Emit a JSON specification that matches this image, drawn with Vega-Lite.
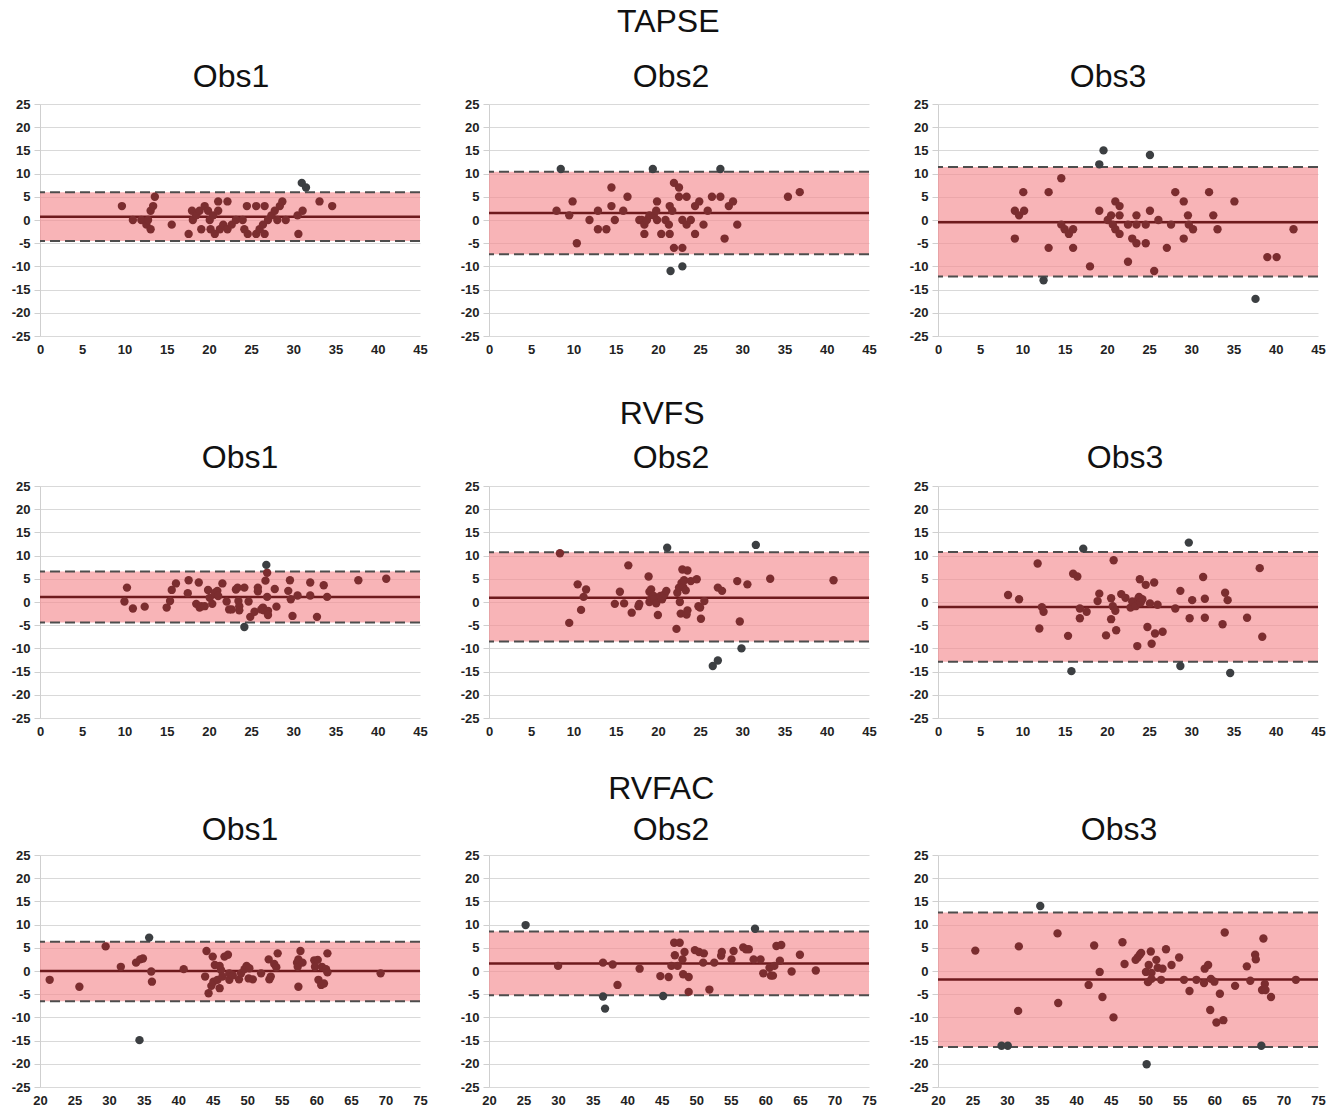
{
"$schema":"https://vega.github.io/schema/vega-lite/v6.json",
"padding":{"left":11,"top":6,"right":5,"bottom":0},
"config":{"font":"Liberation Sans","view":{"stroke":null},
"title":{"fontSize":32,"fontWeight":"normal","font":"Liberation Sans","color":"#111111","anchor":"middle"},
"axis":{"labelFont":"Liberation Sans","labelFontSize":13,"labelFontWeight":"bold","labelColor":"#222222","domainColor":"#cfcfcf","tickColor":"#cfcfcf","gridColor":"#d9d9d9","labelFlush":false,"labelOverlap":false,"labelExpr":"replace(datum.label,'−','-')"},
"axisY":{"grid":true,"tickSize":6,"labelPadding":4,"domain":true,"values":[-25,-20,-15,-10,-5,0,5,10,15,20,25]},
"axisX":{"grid":false,"ticks":false,"domain":false,"labelPadding":7}},
"datasets":{
"lim":[
{"p":"t1","mean":0.7,"lo":-4.5,"hi":6.0},
{"p":"t2","mean":1.5,"lo":-7.4,"hi":10.4},
{"p":"t3","mean":-0.5,"lo":-12.2,"hi":11.4},
{"p":"r1","mean":1.07,"lo":-4.4,"hi":6.6},
{"p":"r2","mean":0.93,"lo":-8.5,"hi":10.7},
{"p":"r3","mean":-1.07,"lo":-12.9,"hi":10.8},
{"p":"f1","mean":0,"lo":-6.5,"hi":6.3},
{"p":"f2","mean":1.6,"lo":-5.2,"hi":8.5},
{"p":"f3","mean":-1.85,"lo":-16.4,"hi":12.6}],
"t1":[{"x":9.7,"y":3,"s":"in"},{"x":11,"y":0,"s":"in"},{"x":12,"y":0,"s":"in"},{"x":12.6,"y":-1,"s":"in"},{"x":13.1,"y":-2,"s":"in"},{"x":13.1,"y":2,"s":"in"},{"x":13.4,"y":3,"s":"in"},{"x":13.6,"y":5,"s":"in"},{"x":12.8,"y":0,"s":"in"},{"x":15.6,"y":-1,"s":"in"},{"x":17.6,"y":-3,"s":"in"},{"x":18,"y":2,"s":"in"},{"x":18.1,"y":0,"s":"in"},{"x":18.5,"y":1,"s":"in"},{"x":18.9,"y":2,"s":"in"},{"x":19.1,"y":-2,"s":"in"},{"x":19.5,"y":3,"s":"in"},{"x":19.9,"y":2,"s":"in"},{"x":20.1,"y":0,"s":"in"},{"x":20.2,"y":-2,"s":"in"},{"x":20.7,"y":-3,"s":"in"},{"x":20.5,"y":1,"s":"in"},{"x":21.1,"y":2,"s":"in"},{"x":21.1,"y":4,"s":"in"},{"x":21.3,"y":-2,"s":"in"},{"x":21.7,"y":-1,"s":"in"},{"x":22.2,"y":4,"s":"in"},{"x":22.2,"y":-2,"s":"in"},{"x":22.7,"y":-1,"s":"in"},{"x":23.2,"y":0,"s":"in"},{"x":24,"y":0,"s":"in"},{"x":24.2,"y":-2,"s":"in"},{"x":24.6,"y":-3,"s":"in"},{"x":24.5,"y":3,"s":"in"},{"x":25.6,"y":-3,"s":"in"},{"x":25.6,"y":3,"s":"in"},{"x":26,"y":-2,"s":"in"},{"x":26.4,"y":-1,"s":"in"},{"x":26.6,"y":3,"s":"in"},{"x":26.6,"y":-3,"s":"in"},{"x":27,"y":0,"s":"in"},{"x":27.4,"y":1,"s":"in"},{"x":27.8,"y":2,"s":"in"},{"x":28.1,"y":0,"s":"in"},{"x":28.4,"y":3,"s":"in"},{"x":28.7,"y":4,"s":"in"},{"x":29.1,"y":0,"s":"in"},{"x":30.5,"y":1,"s":"in"},{"x":30.6,"y":-3,"s":"in"},{"x":31.1,"y":2,"s":"in"},{"x":33.1,"y":4,"s":"in"},{"x":34.6,"y":3,"s":"in"},{"x":31,"y":8,"s":"out"},{"x":31.5,"y":7,"s":"out"}],
"t2":[{"x":8,"y":2,"s":"in"},{"x":9.5,"y":1,"s":"in"},{"x":9.9,"y":4,"s":"in"},{"x":10.4,"y":-5,"s":"in"},{"x":11.9,"y":0,"s":"in"},{"x":12.9,"y":2,"s":"in"},{"x":12.9,"y":-2,"s":"in"},{"x":13.9,"y":-2,"s":"in"},{"x":14.5,"y":3,"s":"in"},{"x":14.5,"y":7,"s":"in"},{"x":14.9,"y":0,"s":"in"},{"x":15.9,"y":2,"s":"in"},{"x":16.4,"y":5,"s":"in"},{"x":17.8,"y":0,"s":"in"},{"x":18.1,"y":0,"s":"in"},{"x":18.4,"y":-1,"s":"in"},{"x":18.4,"y":-3,"s":"in"},{"x":18.7,"y":0,"s":"in"},{"x":19,"y":1,"s":"in"},{"x":19.5,"y":1,"s":"in"},{"x":19.8,"y":2,"s":"in"},{"x":19.9,"y":4,"s":"in"},{"x":19.9,"y":0,"s":"in"},{"x":20.4,"y":-3,"s":"in"},{"x":20.9,"y":0,"s":"in"},{"x":21.3,"y":-1,"s":"in"},{"x":21.4,"y":3,"s":"in"},{"x":21.4,"y":-3,"s":"in"},{"x":21.7,"y":2,"s":"in"},{"x":21.9,"y":8,"s":"in"},{"x":21.9,"y":-6,"s":"in"},{"x":22.5,"y":7,"s":"in"},{"x":22.5,"y":5,"s":"in"},{"x":22.9,"y":0,"s":"in"},{"x":22.9,"y":-6,"s":"in"},{"x":23.4,"y":5,"s":"in"},{"x":23.4,"y":-1,"s":"in"},{"x":23.9,"y":0,"s":"in"},{"x":24.4,"y":3,"s":"in"},{"x":24.4,"y":-3,"s":"in"},{"x":24.9,"y":4,"s":"in"},{"x":25.4,"y":-1,"s":"in"},{"x":25.9,"y":2,"s":"in"},{"x":26.4,"y":5,"s":"in"},{"x":27.4,"y":5,"s":"in"},{"x":27.9,"y":-4,"s":"in"},{"x":28.4,"y":3,"s":"in"},{"x":28.9,"y":4,"s":"in"},{"x":29.4,"y":-1,"s":"in"},{"x":35.4,"y":5,"s":"in"},{"x":36.8,"y":6,"s":"in"},{"x":8.5,"y":11,"s":"out"},{"x":19.4,"y":11,"s":"out"},{"x":21.5,"y":-11,"s":"out"},{"x":22.9,"y":-10,"s":"out"},{"x":27.4,"y":11,"s":"out"}],
"t3":[{"x":9.1,"y":-4,"s":"in"},{"x":9.1,"y":2,"s":"in"},{"x":9.6,"y":1,"s":"in"},{"x":10.1,"y":6,"s":"in"},{"x":10.2,"y":2,"s":"in"},{"x":13.1,"y":6,"s":"in"},{"x":13.1,"y":-6,"s":"in"},{"x":14.6,"y":9,"s":"in"},{"x":14.6,"y":-1,"s":"in"},{"x":15,"y":-2,"s":"in"},{"x":15.5,"y":-3,"s":"in"},{"x":16,"y":-2,"s":"in"},{"x":16,"y":-6,"s":"in"},{"x":18,"y":-10,"s":"in"},{"x":19.1,"y":2,"s":"in"},{"x":20.1,"y":0,"s":"in"},{"x":20.5,"y":1,"s":"in"},{"x":20.7,"y":-1,"s":"in"},{"x":21,"y":-2,"s":"in"},{"x":21,"y":4,"s":"in"},{"x":21.5,"y":3,"s":"in"},{"x":21.5,"y":1,"s":"in"},{"x":21.5,"y":-3,"s":"in"},{"x":22.5,"y":-1,"s":"in"},{"x":22.5,"y":-9,"s":"in"},{"x":23,"y":-4,"s":"in"},{"x":23.5,"y":1,"s":"in"},{"x":23.5,"y":-1,"s":"in"},{"x":23.5,"y":-5,"s":"in"},{"x":24.6,"y":-1,"s":"in"},{"x":24.6,"y":-5,"s":"in"},{"x":25.1,"y":2,"s":"in"},{"x":25.6,"y":-11,"s":"in"},{"x":26.1,"y":0,"s":"in"},{"x":27.1,"y":-6,"s":"in"},{"x":27.6,"y":-1,"s":"in"},{"x":28.1,"y":6,"s":"in"},{"x":29.1,"y":4,"s":"in"},{"x":29.1,"y":-4,"s":"in"},{"x":29.6,"y":1,"s":"in"},{"x":29.7,"y":-1,"s":"in"},{"x":30.2,"y":-2,"s":"in"},{"x":32.1,"y":6,"s":"in"},{"x":32.6,"y":1,"s":"in"},{"x":33.1,"y":-2,"s":"in"},{"x":35.1,"y":4,"s":"in"},{"x":39,"y":-8,"s":"in"},{"x":40.1,"y":-8,"s":"in"},{"x":42.1,"y":-2,"s":"in"},{"x":12.5,"y":-13,"s":"out"},{"x":19.1,"y":12,"s":"out"},{"x":19.6,"y":15,"s":"out"},{"x":25.1,"y":14,"s":"out"},{"x":37.6,"y":-17,"s":"out"}],
"r1":[{"x":10.0,"y":0.1,"s":"in"},{"x":10.3,"y":3.1,"s":"in"},{"x":11.0,"y":-1.4,"s":"in"},{"x":12.4,"y":-1.0,"s":"in"},{"x":15.0,"y":-1.2,"s":"in"},{"x":15.4,"y":0.2,"s":"in"},{"x":15.6,"y":2.6,"s":"in"},{"x":16.1,"y":4.0,"s":"in"},{"x":17.5,"y":1.9,"s":"in"},{"x":17.6,"y":4.7,"s":"in"},{"x":18.5,"y":-0.4,"s":"in"},{"x":18.8,"y":4.2,"s":"in"},{"x":18.9,"y":-1.2,"s":"in"},{"x":19.1,"y":-0.9,"s":"in"},{"x":19.5,"y":-0.9,"s":"in"},{"x":19.9,"y":2.6,"s":"in"},{"x":20.1,"y":0.9,"s":"in"},{"x":20.4,"y":-0.4,"s":"in"},{"x":20.7,"y":2.0,"s":"in"},{"x":21.0,"y":2.4,"s":"in"},{"x":21.1,"y":1.3,"s":"in"},{"x":21.6,"y":4.0,"s":"in"},{"x":22.1,"y":0.1,"s":"in"},{"x":22.4,"y":-1.6,"s":"in"},{"x":22.7,"y":-1.6,"s":"in"},{"x":23.2,"y":2.7,"s":"in"},{"x":23.4,"y":3.1,"s":"in"},{"x":23.5,"y":0.2,"s":"in"},{"x":23.6,"y":-0.9,"s":"in"},{"x":23.6,"y":-1.8,"s":"in"},{"x":24.2,"y":3.1,"s":"in"},{"x":24.7,"y":0.1,"s":"in"},{"x":24.9,"y":-3.2,"s":"in"},{"x":25.4,"y":-2.1,"s":"in"},{"x":25.8,"y":3.1,"s":"in"},{"x":25.8,"y":2.3,"s":"in"},{"x":26.2,"y":-1.6,"s":"in"},{"x":26.4,"y":-1.2,"s":"in"},{"x":26.5,"y":-1.8,"s":"in"},{"x":26.7,"y":4.6,"s":"in"},{"x":26.9,"y":6.3,"s":"in"},{"x":26.9,"y":1.1,"s":"in"},{"x":27.0,"y":-1.9,"s":"in"},{"x":27.0,"y":-2.8,"s":"in"},{"x":27.8,"y":2.8,"s":"in"},{"x":28.0,"y":-1.0,"s":"in"},{"x":29.4,"y":2.4,"s":"in"},{"x":29.6,"y":4.7,"s":"in"},{"x":29.7,"y":0.6,"s":"in"},{"x":29.9,"y":-3.0,"s":"in"},{"x":30.5,"y":1.4,"s":"in"},{"x":32.0,"y":4.2,"s":"in"},{"x":32.0,"y":1.4,"s":"in"},{"x":32.8,"y":-3.2,"s":"in"},{"x":33.6,"y":3.6,"s":"in"},{"x":34.0,"y":1.1,"s":"in"},{"x":37.7,"y":4.7,"s":"in"},{"x":41.0,"y":5.0,"s":"in"},{"x":24.2,"y":-5.4,"s":"out"},{"x":26.8,"y":8.0,"s":"out"}],
"r2":[{"x":8.4,"y":10.5,"s":"in"},{"x":9.5,"y":-4.5,"s":"in"},{"x":10.5,"y":3.8,"s":"in"},{"x":10.9,"y":-1.7,"s":"in"},{"x":11.2,"y":1.1,"s":"in"},{"x":11.5,"y":2.7,"s":"in"},{"x":14.9,"y":-0.4,"s":"in"},{"x":15.5,"y":2.2,"s":"in"},{"x":16.0,"y":-0.3,"s":"in"},{"x":16.5,"y":7.9,"s":"in"},{"x":16.9,"y":-2.3,"s":"in"},{"x":17.7,"y":-0.9,"s":"in"},{"x":17.8,"y":-0.4,"s":"in"},{"x":18.9,"y":5.5,"s":"in"},{"x":19.0,"y":2.2,"s":"in"},{"x":19.0,"y":0,"s":"in"},{"x":19.2,"y":2.7,"s":"in"},{"x":19.2,"y":0.7,"s":"in"},{"x":19.5,"y":1.3,"s":"in"},{"x":19.6,"y":0.6,"s":"in"},{"x":19.8,"y":-0.3,"s":"in"},{"x":20.0,"y":-2.8,"s":"in"},{"x":20.3,"y":1.3,"s":"in"},{"x":20.5,"y":0.6,"s":"in"},{"x":20.8,"y":1.7,"s":"in"},{"x":21.0,"y":2.4,"s":"in"},{"x":22.2,"y":-5.8,"s":"in"},{"x":22.3,"y":2.0,"s":"in"},{"x":22.5,"y":3.1,"s":"in"},{"x":22.6,"y":0,"s":"in"},{"x":22.7,"y":-2.5,"s":"in"},{"x":22.8,"y":4.1,"s":"in"},{"x":22.9,"y":7.0,"s":"in"},{"x":23.0,"y":3.2,"s":"in"},{"x":23.1,"y":4.7,"s":"in"},{"x":23.3,"y":2.5,"s":"in"},{"x":23.4,"y":-2.7,"s":"in"},{"x":23.5,"y":6.8,"s":"in"},{"x":23.5,"y":-1.8,"s":"in"},{"x":23.9,"y":4.5,"s":"in"},{"x":24.6,"y":4.9,"s":"in"},{"x":24.8,"y":-0.9,"s":"in"},{"x":25.0,"y":-1.2,"s":"in"},{"x":25.1,"y":-3.6,"s":"in"},{"x":25.5,"y":0.2,"s":"in"},{"x":27.1,"y":3.1,"s":"in"},{"x":27.6,"y":2.4,"s":"in"},{"x":29.4,"y":4.5,"s":"in"},{"x":29.7,"y":-4.2,"s":"in"},{"x":30.6,"y":3.8,"s":"in"},{"x":33.3,"y":5.0,"s":"in"},{"x":40.8,"y":4.7,"s":"in"},{"x":21.1,"y":11.7,"s":"out"},{"x":26.5,"y":-13.8,"s":"out"},{"x":27.1,"y":-12.6,"s":"out"},{"x":29.9,"y":-10.0,"s":"out"},{"x":31.6,"y":12.3,"s":"out"}],
"r3":[{"x":8.3,"y":1.5,"s":"in"},{"x":9.6,"y":0.6,"s":"in"},{"x":11.8,"y":8.3,"s":"in"},{"x":12.0,"y":-5.7,"s":"in"},{"x":12.3,"y":-1.1,"s":"in"},{"x":12.5,"y":-2.1,"s":"in"},{"x":15.4,"y":-7.3,"s":"in"},{"x":16.0,"y":6.1,"s":"in"},{"x":16.5,"y":5.5,"s":"in"},{"x":16.8,"y":-3.5,"s":"in"},{"x":16.8,"y":-1.4,"s":"in"},{"x":17.6,"y":-2.1,"s":"in"},{"x":18.9,"y":0.2,"s":"in"},{"x":19.1,"y":1.8,"s":"in"},{"x":19.9,"y":-7.2,"s":"in"},{"x":20.5,"y":0.8,"s":"in"},{"x":20.5,"y":-3.7,"s":"in"},{"x":20.7,"y":-0.9,"s":"in"},{"x":20.8,"y":9.0,"s":"in"},{"x":21.0,"y":-1.9,"s":"in"},{"x":21.1,"y":-6.1,"s":"in"},{"x":21.7,"y":1.7,"s":"in"},{"x":22.2,"y":0.9,"s":"in"},{"x":22.8,"y":-1.2,"s":"in"},{"x":23.0,"y":0.1,"s":"in"},{"x":23.4,"y":-0.9,"s":"in"},{"x":23.6,"y":-9.5,"s":"in"},{"x":23.7,"y":0.6,"s":"in"},{"x":23.8,"y":1.1,"s":"in"},{"x":24.0,"y":-0.1,"s":"in"},{"x":23.9,"y":4.9,"s":"in"},{"x":24.2,"y":0.6,"s":"in"},{"x":24.6,"y":3.7,"s":"in"},{"x":24.8,"y":-5.4,"s":"in"},{"x":25.1,"y":-0.3,"s":"in"},{"x":25.3,"y":-9.0,"s":"in"},{"x":25.6,"y":4.2,"s":"in"},{"x":25.7,"y":-6.8,"s":"in"},{"x":26.0,"y":-0.6,"s":"in"},{"x":26.6,"y":-6.4,"s":"in"},{"x":28.1,"y":-1.4,"s":"in"},{"x":28.7,"y":2.4,"s":"in"},{"x":29.8,"y":-3.5,"s":"in"},{"x":30.1,"y":0.4,"s":"in"},{"x":31.4,"y":5.4,"s":"in"},{"x":31.6,"y":0.7,"s":"in"},{"x":31.6,"y":-3.4,"s":"in"},{"x":33.7,"y":-4.8,"s":"in"},{"x":34.0,"y":2.0,"s":"in"},{"x":34.3,"y":0.4,"s":"in"},{"x":36.6,"y":-3.4,"s":"in"},{"x":38.1,"y":7.3,"s":"in"},{"x":38.4,"y":-7.5,"s":"in"},{"x":15.8,"y":-14.9,"s":"out"},{"x":17.2,"y":11.5,"s":"out"},{"x":28.7,"y":-13.8,"s":"out"},{"x":29.7,"y":12.8,"s":"out"},{"x":34.6,"y":-15.3,"s":"out"}],
"f1":[{"x":21.4,"y":-1.9,"s":"in"},{"x":25.7,"y":-3.4,"s":"in"},{"x":29.5,"y":5.3,"s":"in"},{"x":31.7,"y":0.9,"s":"in"},{"x":33.9,"y":1.8,"s":"in"},{"x":34.5,"y":2.5,"s":"in"},{"x":34.9,"y":2.7,"s":"in"},{"x":36.1,"y":-0.1,"s":"in"},{"x":36.2,"y":-2.3,"s":"in"},{"x":40.8,"y":0.4,"s":"in"},{"x":43.9,"y":-1.2,"s":"in"},{"x":44.1,"y":4.3,"s":"in"},{"x":44.4,"y":-4.8,"s":"in"},{"x":44.8,"y":-3.2,"s":"in"},{"x":45.0,"y":3.1,"s":"in"},{"x":45.1,"y":-2.3,"s":"in"},{"x":45.3,"y":1.3,"s":"in"},{"x":45.7,"y":-1.9,"s":"in"},{"x":46.0,"y":1.1,"s":"in"},{"x":46.0,"y":-3.7,"s":"in"},{"x":46.2,"y":0.2,"s":"in"},{"x":46.4,"y":-1.2,"s":"in"},{"x":46.7,"y":3.1,"s":"in"},{"x":47.2,"y":3.5,"s":"in"},{"x":47.4,"y":-1.9,"s":"in"},{"x":47.4,"y":-0.5,"s":"in"},{"x":47.9,"y":-0.9,"s":"in"},{"x":48.8,"y":-1.8,"s":"in"},{"x":49.1,"y":-0.5,"s":"in"},{"x":49.6,"y":0.4,"s":"in"},{"x":49.9,"y":1.1,"s":"in"},{"x":50.2,"y":-1.6,"s":"in"},{"x":50.3,"y":0.6,"s":"in"},{"x":50.8,"y":-1.8,"s":"in"},{"x":52.0,"y":-0.5,"s":"in"},{"x":53.1,"y":2.5,"s":"in"},{"x":53.2,"y":-1.8,"s":"in"},{"x":53.4,"y":-1.2,"s":"in"},{"x":53.9,"y":1.5,"s":"in"},{"x":54.2,"y":0.8,"s":"in"},{"x":54.4,"y":3.8,"s":"in"},{"x":57.2,"y":1.8,"s":"in"},{"x":57.3,"y":0.9,"s":"in"},{"x":57.4,"y":2.5,"s":"in"},{"x":57.4,"y":-3.4,"s":"in"},{"x":57.7,"y":4.3,"s":"in"},{"x":58.0,"y":1.8,"s":"in"},{"x":59.7,"y":2.3,"s":"in"},{"x":59.8,"y":0.9,"s":"in"},{"x":60.2,"y":2.4,"s":"in"},{"x":60.3,"y":-1.9,"s":"in"},{"x":60.7,"y":-3.0,"s":"in"},{"x":60.8,"y":0.9,"s":"in"},{"x":61.1,"y":-2.7,"s":"in"},{"x":61.4,"y":0.4,"s":"in"},{"x":61.6,"y":3.8,"s":"in"},{"x":61.6,"y":-0.3,"s":"in"},{"x":69.3,"y":-0.5,"s":"in"},{"x":34.4,"y":-14.9,"s":"out"},{"x":35.8,"y":7.2,"s":"out"}],
"f2":[{"x":30.0,"y":1.1,"s":"in"},{"x":36.5,"y":1.8,"s":"in"},{"x":37.9,"y":1.4,"s":"in"},{"x":38.6,"y":-3.0,"s":"in"},{"x":41.8,"y":0.5,"s":"in"},{"x":44.8,"y":-1.1,"s":"in"},{"x":46.0,"y":-1.3,"s":"in"},{"x":46.4,"y":1.1,"s":"in"},{"x":46.8,"y":6.1,"s":"in"},{"x":46.9,"y":3.4,"s":"in"},{"x":47.3,"y":1.1,"s":"in"},{"x":47.6,"y":6.1,"s":"in"},{"x":48.0,"y":2.5,"s":"in"},{"x":48.1,"y":-0.7,"s":"in"},{"x":48.3,"y":4.1,"s":"in"},{"x":48.9,"y":-1.3,"s":"in"},{"x":48.9,"y":-4.5,"s":"in"},{"x":49.8,"y":4.5,"s":"in"},{"x":50.4,"y":4.1,"s":"in"},{"x":51.0,"y":1.8,"s":"in"},{"x":51.1,"y":3.8,"s":"in"},{"x":51.9,"y":-4.0,"s":"in"},{"x":52.6,"y":1.8,"s":"in"},{"x":53.6,"y":3.3,"s":"in"},{"x":53.7,"y":4.1,"s":"in"},{"x":55.1,"y":2.5,"s":"in"},{"x":55.4,"y":4.3,"s":"in"},{"x":56.8,"y":5.1,"s":"in"},{"x":57.2,"y":4.7,"s":"in"},{"x":57.6,"y":4.7,"s":"in"},{"x":58.3,"y":2.5,"s":"in"},{"x":59.3,"y":2.5,"s":"in"},{"x":59.7,"y":-0.5,"s":"in"},{"x":60.6,"y":0.7,"s":"in"},{"x":60.8,"y":-1.0,"s":"in"},{"x":61.1,"y":-1.0,"s":"in"},{"x":61.3,"y":1.1,"s":"in"},{"x":61.6,"y":5.4,"s":"in"},{"x":62.1,"y":2.2,"s":"in"},{"x":62.3,"y":5.6,"s":"in"},{"x":63.8,"y":-0.1,"s":"in"},{"x":65.0,"y":3.5,"s":"in"},{"x":67.3,"y":0.1,"s":"in"},{"x":25.3,"y":9.9,"s":"out"},{"x":36.5,"y":-5.5,"s":"out"},{"x":36.8,"y":-8.1,"s":"out"},{"x":45.2,"y":-5.4,"s":"out"},{"x":58.5,"y":9.1,"s":"out"}],
"f3":[{"x":25.4,"y":4.4,"s":"in"},{"x":31.6,"y":-8.6,"s":"in"},{"x":31.7,"y":5.3,"s":"in"},{"x":37.3,"y":8.1,"s":"in"},{"x":37.4,"y":-6.9,"s":"in"},{"x":41.8,"y":-3.0,"s":"in"},{"x":42.6,"y":5.5,"s":"in"},{"x":43.4,"y":-0.2,"s":"in"},{"x":43.8,"y":-5.6,"s":"in"},{"x":45.4,"y":-10.0,"s":"in"},{"x":46.7,"y":6.2,"s":"in"},{"x":47.0,"y":1.5,"s":"in"},{"x":48.6,"y":2.4,"s":"in"},{"x":48.9,"y":2.9,"s":"in"},{"x":49.2,"y":3.5,"s":"in"},{"x":49.4,"y":3.9,"s":"in"},{"x":50.1,"y":-0.2,"s":"in"},{"x":50.4,"y":-2.4,"s":"in"},{"x":50.5,"y":1.3,"s":"in"},{"x":50.8,"y":4.2,"s":"in"},{"x":50.9,"y":-0.4,"s":"in"},{"x":50.9,"y":-1.7,"s":"in"},{"x":51.6,"y":2.4,"s":"in"},{"x":51.8,"y":0.7,"s":"in"},{"x":52.3,"y":-1.9,"s":"in"},{"x":52.5,"y":0.5,"s":"in"},{"x":53.0,"y":4.7,"s":"in"},{"x":53.8,"y":1.3,"s":"in"},{"x":54.9,"y":2.9,"s":"in"},{"x":55.6,"y":-1.9,"s":"in"},{"x":56.4,"y":-4.3,"s":"in"},{"x":57.4,"y":-1.9,"s":"in"},{"x":58.5,"y":-2.6,"s":"in"},{"x":58.6,"y":0.5,"s":"in"},{"x":59.1,"y":1.3,"s":"in"},{"x":59.4,"y":-8.4,"s":"in"},{"x":59.5,"y":-1.7,"s":"in"},{"x":60.0,"y":-2.3,"s":"in"},{"x":60.3,"y":-11.1,"s":"in"},{"x":60.8,"y":-4.9,"s":"in"},{"x":61.3,"y":-10.6,"s":"in"},{"x":61.5,"y":8.3,"s":"in"},{"x":63.0,"y":-3.2,"s":"in"},{"x":64.7,"y":1.0,"s":"in"},{"x":65.2,"y":-2.1,"s":"in"},{"x":65.9,"y":3.5,"s":"in"},{"x":66.0,"y":2.5,"s":"in"},{"x":66.9,"y":-4.1,"s":"in"},{"x":67.1,"y":7.0,"s":"in"},{"x":67.3,"y":-2.8,"s":"in"},{"x":67.4,"y":-4.1,"s":"in"},{"x":68.2,"y":-5.6,"s":"in"},{"x":71.8,"y":-1.9,"s":"in"},{"x":29.2,"y":-16.1,"s":"out"},{"x":30.1,"y":-16.1,"s":"out"},{"x":34.8,"y":14.0,"s":"out"},{"x":50.2,"y":-20.1,"s":"out"},{"x":66.8,"y":-16.1,"s":"out"}]
},
"spacing":35,
"vconcat":[
{"title":{"text":"TAPSE","offset":22},"spacing":32,"hconcat":[
{"width":380,"height":232,"title":{"text":"Obs1","dx":1,"offset":4},"layer":[
{"data":{"name":"lim"},"transform":[{"filter":"datum.p==='t1'"}],"mark":{"type":"rect","color":"#f58c90","opacity":0.65},"encoding":{"y":{"field":"lo","type":"quantitative","title":null,"scale":{"domain":[-25,25],"nice":false},"axis":{"values":[-25,-20,-15,-10,-5,0,5,10,15,20,25]}},"y2":{"field":"hi"}}},
{"data":{"name":"lim"},"transform":[{"filter":"datum.p==='t1'"}],"mark":{"type":"rule","color":"#4d4d4d","strokeWidth":2,"strokeDash":[10,5]},"encoding":{"y":{"field":"hi","type":"quantitative","title":null,"axis":{"values":[-25,-20,-15,-10,-5,0,5,10,15,20,25]}}}},
{"data":{"name":"lim"},"transform":[{"filter":"datum.p==='t1'"}],"mark":{"type":"rule","color":"#4d4d4d","strokeWidth":2,"strokeDash":[10,5]},"encoding":{"y":{"field":"lo","type":"quantitative","title":null,"axis":{"values":[-25,-20,-15,-10,-5,0,5,10,15,20,25]}}}},
{"data":{"name":"lim"},"transform":[{"filter":"datum.p==='t1'"}],"mark":{"type":"rule","color":"#6e1a1d","strokeWidth":2.5},"encoding":{"y":{"field":"mean","type":"quantitative","title":null,"axis":{"values":[-25,-20,-15,-10,-5,0,5,10,15,20,25]}}}},
{"data":{"name":"t1"},"mark":{"type":"circle","size":70,"opacity":1},"encoding":{"x":{"field":"x","type":"quantitative","title":" ","scale":{"domain":[0,45],"nice":false},"axis":{"values":[0,5,10,15,20,25,30,35,40,45],"titleFontSize":7,"titlePadding":0}},"y":{"field":"y","type":"quantitative","title":null,"axis":{"values":[-25,-20,-15,-10,-5,0,5,10,15,20,25]}},"color":{"field":"s","type":"nominal","scale":{"domain":["in","out"],"range":["#7b2d2f","#3c3f42"]},"legend":null}}}]},
{"width":380,"height":232,"title":{"text":"Obs2","dx":-8,"offset":4},"layer":[
{"data":{"name":"lim"},"transform":[{"filter":"datum.p==='t2'"}],"mark":{"type":"rect","color":"#f58c90","opacity":0.65},"encoding":{"y":{"field":"lo","type":"quantitative","title":null,"scale":{"domain":[-25,25],"nice":false},"axis":{"values":[-25,-20,-15,-10,-5,0,5,10,15,20,25]}},"y2":{"field":"hi"}}},
{"data":{"name":"lim"},"transform":[{"filter":"datum.p==='t2'"}],"mark":{"type":"rule","color":"#4d4d4d","strokeWidth":2,"strokeDash":[10,5]},"encoding":{"y":{"field":"hi","type":"quantitative","title":null,"axis":{"values":[-25,-20,-15,-10,-5,0,5,10,15,20,25]}}}},
{"data":{"name":"lim"},"transform":[{"filter":"datum.p==='t2'"}],"mark":{"type":"rule","color":"#4d4d4d","strokeWidth":2,"strokeDash":[10,5]},"encoding":{"y":{"field":"lo","type":"quantitative","title":null,"axis":{"values":[-25,-20,-15,-10,-5,0,5,10,15,20,25]}}}},
{"data":{"name":"lim"},"transform":[{"filter":"datum.p==='t2'"}],"mark":{"type":"rule","color":"#6e1a1d","strokeWidth":2.5},"encoding":{"y":{"field":"mean","type":"quantitative","title":null,"axis":{"values":[-25,-20,-15,-10,-5,0,5,10,15,20,25]}}}},
{"data":{"name":"t2"},"mark":{"type":"circle","size":70,"opacity":1},"encoding":{"x":{"field":"x","type":"quantitative","title":" ","scale":{"domain":[0,45],"nice":false},"axis":{"values":[0,5,10,15,20,25,30,35,40,45],"titleFontSize":7,"titlePadding":0}},"y":{"field":"y","type":"quantitative","title":null,"axis":{"values":[-25,-20,-15,-10,-5,0,5,10,15,20,25]}},"color":{"field":"s","type":"nominal","scale":{"domain":["in","out"],"range":["#7b2d2f","#3c3f42"]},"legend":null}}}]},
{"width":380,"height":232,"title":{"text":"Obs3","dx":-20,"offset":4},"layer":[
{"data":{"name":"lim"},"transform":[{"filter":"datum.p==='t3'"}],"mark":{"type":"rect","color":"#f58c90","opacity":0.65},"encoding":{"y":{"field":"lo","type":"quantitative","title":null,"scale":{"domain":[-25,25],"nice":false},"axis":{"values":[-25,-20,-15,-10,-5,0,5,10,15,20,25]}},"y2":{"field":"hi"}}},
{"data":{"name":"lim"},"transform":[{"filter":"datum.p==='t3'"}],"mark":{"type":"rule","color":"#4d4d4d","strokeWidth":2,"strokeDash":[10,5]},"encoding":{"y":{"field":"hi","type":"quantitative","title":null,"axis":{"values":[-25,-20,-15,-10,-5,0,5,10,15,20,25]}}}},
{"data":{"name":"lim"},"transform":[{"filter":"datum.p==='t3'"}],"mark":{"type":"rule","color":"#4d4d4d","strokeWidth":2,"strokeDash":[10,5]},"encoding":{"y":{"field":"lo","type":"quantitative","title":null,"axis":{"values":[-25,-20,-15,-10,-5,0,5,10,15,20,25]}}}},
{"data":{"name":"lim"},"transform":[{"filter":"datum.p==='t3'"}],"mark":{"type":"rule","color":"#6e1a1d","strokeWidth":2.5},"encoding":{"y":{"field":"mean","type":"quantitative","title":null,"axis":{"values":[-25,-20,-15,-10,-5,0,5,10,15,20,25]}}}},
{"data":{"name":"t3"},"mark":{"type":"circle","size":70,"opacity":1},"encoding":{"x":{"field":"x","type":"quantitative","title":" ","scale":{"domain":[0,45],"nice":false},"axis":{"values":[0,5,10,15,20,25,30,35,40,45],"titleFontSize":7,"titlePadding":0}},"y":{"field":"y","type":"quantitative","title":null,"axis":{"values":[-25,-20,-15,-10,-5,0,5,10,15,20,25]}},"color":{"field":"s","type":"nominal","scale":{"domain":["in","out"],"range":["#7b2d2f","#3c3f42"]},"legend":null}}}]}
]},
{"title":{"text":"RVFS","offset":11,"dx":-6},"spacing":32,"hconcat":[
{"width":380,"height":232,"title":{"text":"Obs1","dx":10,"offset":5},"layer":[
{"data":{"name":"lim"},"transform":[{"filter":"datum.p==='r1'"}],"mark":{"type":"rect","color":"#f58c90","opacity":0.65},"encoding":{"y":{"field":"lo","type":"quantitative","title":null,"scale":{"domain":[-25,25],"nice":false},"axis":{"values":[-25,-20,-15,-10,-5,0,5,10,15,20,25]}},"y2":{"field":"hi"}}},
{"data":{"name":"lim"},"transform":[{"filter":"datum.p==='r1'"}],"mark":{"type":"rule","color":"#4d4d4d","strokeWidth":2,"strokeDash":[10,5]},"encoding":{"y":{"field":"hi","type":"quantitative","title":null,"axis":{"values":[-25,-20,-15,-10,-5,0,5,10,15,20,25]}}}},
{"data":{"name":"lim"},"transform":[{"filter":"datum.p==='r1'"}],"mark":{"type":"rule","color":"#4d4d4d","strokeWidth":2,"strokeDash":[10,5]},"encoding":{"y":{"field":"lo","type":"quantitative","title":null,"axis":{"values":[-25,-20,-15,-10,-5,0,5,10,15,20,25]}}}},
{"data":{"name":"lim"},"transform":[{"filter":"datum.p==='r1'"}],"mark":{"type":"rule","color":"#6e1a1d","strokeWidth":2.5},"encoding":{"y":{"field":"mean","type":"quantitative","title":null,"axis":{"values":[-25,-20,-15,-10,-5,0,5,10,15,20,25]}}}},
{"data":{"name":"r1"},"mark":{"type":"circle","size":70,"opacity":1},"encoding":{"x":{"field":"x","type":"quantitative","title":null,"scale":{"domain":[0,45],"nice":false},"axis":{"values":[0,5,10,15,20,25,30,35,40,45]}},"y":{"field":"y","type":"quantitative","title":null,"axis":{"values":[-25,-20,-15,-10,-5,0,5,10,15,20,25]}},"color":{"field":"s","type":"nominal","scale":{"domain":["in","out"],"range":["#7b2d2f","#3c3f42"]},"legend":null}}}]},
{"width":380,"height":232,"title":{"text":"Obs2","dx":-8,"offset":5},"layer":[
{"data":{"name":"lim"},"transform":[{"filter":"datum.p==='r2'"}],"mark":{"type":"rect","color":"#f58c90","opacity":0.65},"encoding":{"y":{"field":"lo","type":"quantitative","title":null,"scale":{"domain":[-25,25],"nice":false},"axis":{"values":[-25,-20,-15,-10,-5,0,5,10,15,20,25]}},"y2":{"field":"hi"}}},
{"data":{"name":"lim"},"transform":[{"filter":"datum.p==='r2'"}],"mark":{"type":"rule","color":"#4d4d4d","strokeWidth":2,"strokeDash":[10,5]},"encoding":{"y":{"field":"hi","type":"quantitative","title":null,"axis":{"values":[-25,-20,-15,-10,-5,0,5,10,15,20,25]}}}},
{"data":{"name":"lim"},"transform":[{"filter":"datum.p==='r2'"}],"mark":{"type":"rule","color":"#4d4d4d","strokeWidth":2,"strokeDash":[10,5]},"encoding":{"y":{"field":"lo","type":"quantitative","title":null,"axis":{"values":[-25,-20,-15,-10,-5,0,5,10,15,20,25]}}}},
{"data":{"name":"lim"},"transform":[{"filter":"datum.p==='r2'"}],"mark":{"type":"rule","color":"#6e1a1d","strokeWidth":2.5},"encoding":{"y":{"field":"mean","type":"quantitative","title":null,"axis":{"values":[-25,-20,-15,-10,-5,0,5,10,15,20,25]}}}},
{"data":{"name":"r2"},"mark":{"type":"circle","size":70,"opacity":1},"encoding":{"x":{"field":"x","type":"quantitative","title":null,"scale":{"domain":[0,45],"nice":false},"axis":{"values":[0,5,10,15,20,25,30,35,40,45]}},"y":{"field":"y","type":"quantitative","title":null,"axis":{"values":[-25,-20,-15,-10,-5,0,5,10,15,20,25]}},"color":{"field":"s","type":"nominal","scale":{"domain":["in","out"],"range":["#7b2d2f","#3c3f42"]},"legend":null}}}]},
{"width":380,"height":232,"title":{"text":"Obs3","dx":-3,"offset":5},"layer":[
{"data":{"name":"lim"},"transform":[{"filter":"datum.p==='r3'"}],"mark":{"type":"rect","color":"#f58c90","opacity":0.65},"encoding":{"y":{"field":"lo","type":"quantitative","title":null,"scale":{"domain":[-25,25],"nice":false},"axis":{"values":[-25,-20,-15,-10,-5,0,5,10,15,20,25]}},"y2":{"field":"hi"}}},
{"data":{"name":"lim"},"transform":[{"filter":"datum.p==='r3'"}],"mark":{"type":"rule","color":"#4d4d4d","strokeWidth":2,"strokeDash":[10,5]},"encoding":{"y":{"field":"hi","type":"quantitative","title":null,"axis":{"values":[-25,-20,-15,-10,-5,0,5,10,15,20,25]}}}},
{"data":{"name":"lim"},"transform":[{"filter":"datum.p==='r3'"}],"mark":{"type":"rule","color":"#4d4d4d","strokeWidth":2,"strokeDash":[10,5]},"encoding":{"y":{"field":"lo","type":"quantitative","title":null,"axis":{"values":[-25,-20,-15,-10,-5,0,5,10,15,20,25]}}}},
{"data":{"name":"lim"},"transform":[{"filter":"datum.p==='r3'"}],"mark":{"type":"rule","color":"#6e1a1d","strokeWidth":2.5},"encoding":{"y":{"field":"mean","type":"quantitative","title":null,"axis":{"values":[-25,-20,-15,-10,-5,0,5,10,15,20,25]}}}},
{"data":{"name":"r3"},"mark":{"type":"circle","size":70,"opacity":1},"encoding":{"x":{"field":"x","type":"quantitative","title":null,"scale":{"domain":[0,45],"nice":false},"axis":{"values":[0,5,10,15,20,25,30,35,40,45]}},"y":{"field":"y","type":"quantitative","title":null,"axis":{"values":[-25,-20,-15,-10,-5,0,5,10,15,20,25]}},"color":{"field":"s","type":"nominal","scale":{"domain":["in","out"],"range":["#7b2d2f","#3c3f42"]},"legend":null}}}]}
]},
{"title":{"text":"RVFAC","offset":8,"dx":-7},"spacing":32,"hconcat":[
{"width":380,"height":232,"title":{"text":"Obs1","dx":10,"offset":2},"layer":[
{"data":{"name":"lim"},"transform":[{"filter":"datum.p==='f1'"}],"mark":{"type":"rect","color":"#f58c90","opacity":0.65},"encoding":{"y":{"field":"lo","type":"quantitative","title":null,"scale":{"domain":[-25,25],"nice":false},"axis":{"values":[-25,-20,-15,-10,-5,0,5,10,15,20,25]}},"y2":{"field":"hi"}}},
{"data":{"name":"lim"},"transform":[{"filter":"datum.p==='f1'"}],"mark":{"type":"rule","color":"#4d4d4d","strokeWidth":2,"strokeDash":[10,5]},"encoding":{"y":{"field":"hi","type":"quantitative","title":null,"axis":{"values":[-25,-20,-15,-10,-5,0,5,10,15,20,25]}}}},
{"data":{"name":"lim"},"transform":[{"filter":"datum.p==='f1'"}],"mark":{"type":"rule","color":"#4d4d4d","strokeWidth":2,"strokeDash":[10,5]},"encoding":{"y":{"field":"lo","type":"quantitative","title":null,"axis":{"values":[-25,-20,-15,-10,-5,0,5,10,15,20,25]}}}},
{"data":{"name":"lim"},"transform":[{"filter":"datum.p==='f1'"}],"mark":{"type":"rule","color":"#6e1a1d","strokeWidth":2.5},"encoding":{"y":{"field":"mean","type":"quantitative","title":null,"axis":{"values":[-25,-20,-15,-10,-5,0,5,10,15,20,25]}}}},
{"data":{"name":"f1"},"mark":{"type":"circle","size":70,"opacity":1},"encoding":{"x":{"field":"x","type":"quantitative","title":null,"scale":{"domain":[20,75],"nice":false},"axis":{"values":[20,25,30,35,40,45,50,55,60,65,70,75]}},"y":{"field":"y","type":"quantitative","title":null,"axis":{"values":[-25,-20,-15,-10,-5,0,5,10,15,20,25]}},"color":{"field":"s","type":"nominal","scale":{"domain":["in","out"],"range":["#7b2d2f","#3c3f42"]},"legend":null}}}]},
{"width":380,"height":232,"title":{"text":"Obs2","dx":-8,"offset":2},"layer":[
{"data":{"name":"lim"},"transform":[{"filter":"datum.p==='f2'"}],"mark":{"type":"rect","color":"#f58c90","opacity":0.65},"encoding":{"y":{"field":"lo","type":"quantitative","title":null,"scale":{"domain":[-25,25],"nice":false},"axis":{"values":[-25,-20,-15,-10,-5,0,5,10,15,20,25]}},"y2":{"field":"hi"}}},
{"data":{"name":"lim"},"transform":[{"filter":"datum.p==='f2'"}],"mark":{"type":"rule","color":"#4d4d4d","strokeWidth":2,"strokeDash":[10,5]},"encoding":{"y":{"field":"hi","type":"quantitative","title":null,"axis":{"values":[-25,-20,-15,-10,-5,0,5,10,15,20,25]}}}},
{"data":{"name":"lim"},"transform":[{"filter":"datum.p==='f2'"}],"mark":{"type":"rule","color":"#4d4d4d","strokeWidth":2,"strokeDash":[10,5]},"encoding":{"y":{"field":"lo","type":"quantitative","title":null,"axis":{"values":[-25,-20,-15,-10,-5,0,5,10,15,20,25]}}}},
{"data":{"name":"lim"},"transform":[{"filter":"datum.p==='f2'"}],"mark":{"type":"rule","color":"#6e1a1d","strokeWidth":2.5},"encoding":{"y":{"field":"mean","type":"quantitative","title":null,"axis":{"values":[-25,-20,-15,-10,-5,0,5,10,15,20,25]}}}},
{"data":{"name":"f2"},"mark":{"type":"circle","size":70,"opacity":1},"encoding":{"x":{"field":"x","type":"quantitative","title":null,"scale":{"domain":[20,75],"nice":false},"axis":{"values":[20,25,30,35,40,45,50,55,60,65,70,75]}},"y":{"field":"y","type":"quantitative","title":null,"axis":{"values":[-25,-20,-15,-10,-5,0,5,10,15,20,25]}},"color":{"field":"s","type":"nominal","scale":{"domain":["in","out"],"range":["#7b2d2f","#3c3f42"]},"legend":null}}}]},
{"width":380,"height":232,"title":{"text":"Obs3","dx":-9,"offset":2},"layer":[
{"data":{"name":"lim"},"transform":[{"filter":"datum.p==='f3'"}],"mark":{"type":"rect","color":"#f58c90","opacity":0.65},"encoding":{"y":{"field":"lo","type":"quantitative","title":null,"scale":{"domain":[-25,25],"nice":false},"axis":{"values":[-25,-20,-15,-10,-5,0,5,10,15,20,25]}},"y2":{"field":"hi"}}},
{"data":{"name":"lim"},"transform":[{"filter":"datum.p==='f3'"}],"mark":{"type":"rule","color":"#4d4d4d","strokeWidth":2,"strokeDash":[10,5]},"encoding":{"y":{"field":"hi","type":"quantitative","title":null,"axis":{"values":[-25,-20,-15,-10,-5,0,5,10,15,20,25]}}}},
{"data":{"name":"lim"},"transform":[{"filter":"datum.p==='f3'"}],"mark":{"type":"rule","color":"#4d4d4d","strokeWidth":2,"strokeDash":[10,5]},"encoding":{"y":{"field":"lo","type":"quantitative","title":null,"axis":{"values":[-25,-20,-15,-10,-5,0,5,10,15,20,25]}}}},
{"data":{"name":"lim"},"transform":[{"filter":"datum.p==='f3'"}],"mark":{"type":"rule","color":"#6e1a1d","strokeWidth":2.5},"encoding":{"y":{"field":"mean","type":"quantitative","title":null,"axis":{"values":[-25,-20,-15,-10,-5,0,5,10,15,20,25]}}}},
{"data":{"name":"f3"},"mark":{"type":"circle","size":70,"opacity":1},"encoding":{"x":{"field":"x","type":"quantitative","title":null,"scale":{"domain":[20,75],"nice":false},"axis":{"values":[20,25,30,35,40,45,50,55,60,65,70,75]}},"y":{"field":"y","type":"quantitative","title":null,"axis":{"values":[-25,-20,-15,-10,-5,0,5,10,15,20,25]}},"color":{"field":"s","type":"nominal","scale":{"domain":["in","out"],"range":["#7b2d2f","#3c3f42"]},"legend":null}}}]}
]}
]
}
